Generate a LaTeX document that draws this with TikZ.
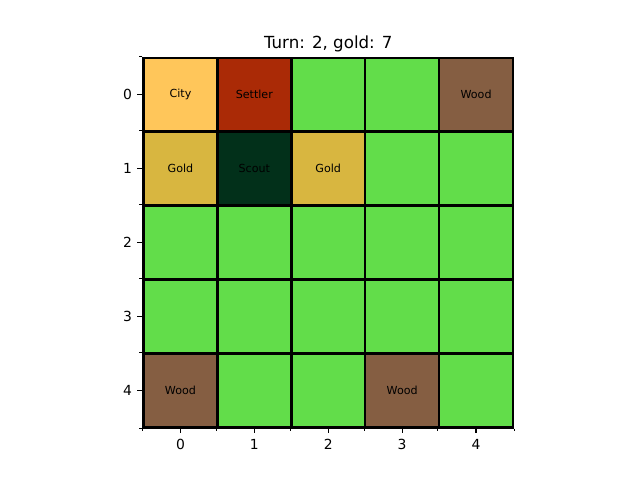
\documentclass[tikz,border=0pt]{standalone}
\usepackage{fontspec}
\setmainfont{DejaVu Sans}
\definecolor{grass}{RGB}{98,221,74}
\definecolor{city}{RGB}{255,198,90}
\definecolor{settler}{RGB}{170,42,6}
\definecolor{wood}{RGB}{133,94,66}
\definecolor{gold}{RGB}{216,182,64}
\definecolor{scout}{RGB}{2,48,26}
\tikzset{
  cell/.style={draw=black,line width=1.8pt,minimum size=53.2pt,inner sep=0pt,
    font=\fontsize{8}{9}\selectfont},
  majortick/.style={line width=0.8pt},
  minortick/.style={line width=0.6pt},
  ticklabel/.style={inner sep=0pt,font=\fontsize{10}{12}\selectfont}
}
\begin{document}
\begin{tikzpicture}[x=0.72pt,y=-0.72pt]
  \useasboundingbox (0,0) rectangle (640,480);
  % board, row/column/colour/text
  \foreach \r/\c/\col/\txt in {
      0/0/city/City, 0/1/settler/Settler, 0/2/grass/, 0/3/grass/, 0/4/wood/Wood,
      1/0/gold/Gold, 1/1/scout/Scout, 1/2/gold/Gold, 1/3/grass/, 1/4/grass/,
      2/0/grass/, 2/1/grass/, 2/2/grass/, 2/3/grass/, 2/4/grass/,
      3/0/grass/, 3/1/grass/, 3/2/grass/, 3/3/grass/, 3/4/grass/,
      4/0/wood/Wood, 4/1/grass/, 4/2/grass/, 4/3/wood/Wood, 4/4/grass/}
    \node[cell,fill=\col] (c-\r-\c) at ({180.45+73.9*\c},{94.75+73.9*\r}) {\txt};
  % ticks
  \foreach \i in {0,...,4} {
    \draw[majortick] (c-\i-0.west) -- ++(-4.9,0) node[ticklabel,left=4.9*0.72pt] {\i};
    \draw[majortick] (c-4-\i.south) -- ++(0,4.9) node[ticklabel,below=4.9*0.72pt] {\i};
  }
  \foreach \i in {0,...,4} {
    \draw[minortick] (c-\i-0.north west) -- ++(-2.8,0);
    \draw[minortick] (c-4-\i.south west) -- ++(0,2.8);
  }
  \draw[minortick] (c-4-0.south west) -- ++(-2.8,0);
  \draw[minortick] (c-4-4.south east) -- ++(0,2.8);
  \node[font=\fontsize{12}{14}\selectfont,inner sep=0pt,above=3.2pt] (title) at (c-0-2.north) {Turn: 2, gold: 7};
\end{tikzpicture}
\end{document}
